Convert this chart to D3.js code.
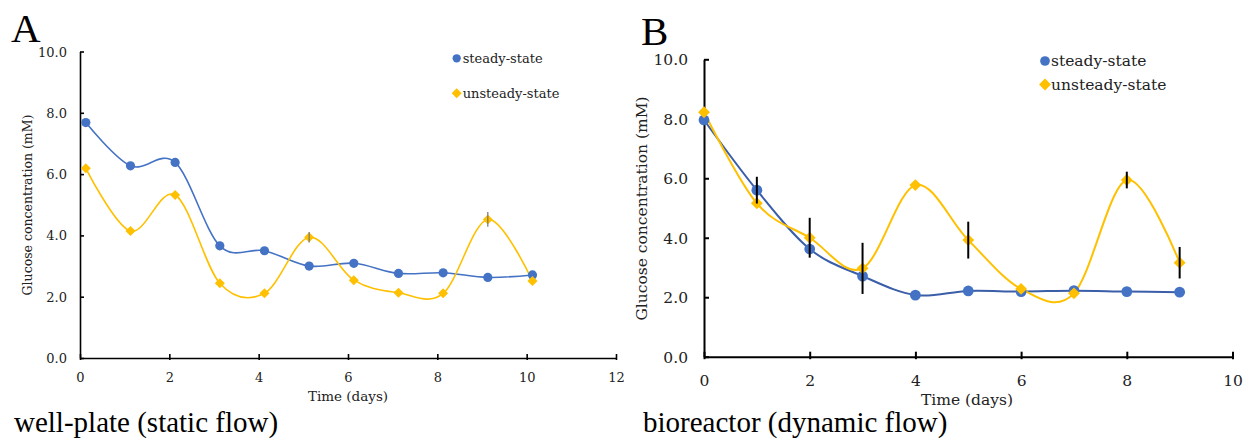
<!DOCTYPE html>
<html><head><meta charset="utf-8">
<script src="https://cdn.jsdelivr.net/npm/d3@7"></script>
<style>body{margin:0;background:#fff}svg{display:block}</style>
</head><body>
<svg id="c" width="1244" height="442"></svg>
<script>
// ---- Data ----
const daysA = [0.13,1.13,2.13,3.13,4.13,5.13,6.13,7.13,8.13,9.13,10.13];
const steadyA = [7.68,6.27,6.38,3.66,3.50,3.00,3.09,2.76,2.78,2.63,2.71];
const unsteadyA = [6.19,4.14,5.32,2.44,2.11,3.94,2.54,2.13,2.11,4.52,2.51];
const unsteadyErrA = [0,0,0,0,0,0.17,0,0,0,0.24,0];
const daysB = [0,1,2,3,4,5,6,7,8,9];
const steadyB = [7.96,5.60,3.62,2.71,2.07,2.21,2.19,2.22,2.19,2.17];
const steadyErrB = [0,0.45,0,0,0,0,0,0,0,0];
const unsteadyB = [8.22,5.16,4.00,2.97,5.77,3.92,2.28,2.13,5.94,3.16];
const unsteadyErrB = [0,0,0.67,0.86,0,0.62,0,0,0.28,0.53];
const yTicks = [0,2,4,6,8,10];
const xTicksA = [0,2,4,6,8,10,12];
const xTicksB = [0,2,4,6,8,10];
const seriesNames = ["steady-state","unsteady-state"];
const colors = {steady:"#4472C4", unsteady:"#FFC000"};

const svg = d3.select("#c");
const serif = "'Liberation Serif','Times New Roman',serif";
const numFont = "'DejaVu Serif',Georgia,serif";

function panel(cfg){
  const g = svg.append("g");
  const x = d3.scaleLinear().domain(cfg.xDomain).range(cfg.xRange);
  const y = d3.scaleLinear().domain([0,10]).range(cfg.yRange);
  // axes
  const ax = d3.axisBottom(x).tickValues(cfg.xTicks).tickSize(0).tickFormat(d3.format("d"));
  const gx = g.append("g").attr("transform",`translate(0,${cfg.yRange[0]})`).call(ax);
  gx.select(".domain").attr("stroke","#000").attr("stroke-width",cfg.axisW);
  gx.selectAll(".tick line").remove();
  gx.selectAll(".tick").append("line").attr("y1",-cfg.tick).attr("y2",cfg.tick*0.5).attr("stroke","#000").attr("stroke-width",cfg.axisW);
  gx.selectAll(".tick text").attr("dy",null).attr("y",cfg.xLabOff).attr("font-family",numFont).attr("font-size",cfg.tickFs).attr("fill","#222");
  const ay = d3.axisLeft(y).tickValues(yTicks).tickSize(0).tickFormat(d3.format(".1f"));
  const gy = g.append("g").attr("transform",`translate(${cfg.xRange[0]},0)`).call(ay);
  gy.select(".domain").attr("stroke","#000").attr("stroke-width",cfg.axisW);
  gy.selectAll(".tick line").remove();
  gy.selectAll(".tick").append("line").attr("x1",0).attr("x2",cfg.tick).attr("stroke","#000").attr("stroke-width",cfg.axisW);
  gy.selectAll(".tick text").attr("x",-cfg.yLabOff).attr("dy","0.35em").attr("font-family",numFont).attr("font-size",cfg.tickFs).attr("fill","#222");
  // axis titles
  g.append("text").attr("x",cfg.xTitle[0]).attr("y",cfg.xTitle[1]).attr("text-anchor","middle")
    .attr("font-family",numFont).attr("font-size",cfg.titleFs).attr("fill","#222").text("Time (days)");
  g.append("text").attr("transform",`translate(${cfg.yTitle[0]},${cfg.yTitle[1]}) rotate(-90)`).attr("text-anchor","middle")
    .attr("font-family",numFont).attr("font-size",cfg.yTitleFs).attr("fill","#222").text("Glucose concentration (mM)");
  // panel letter & caption
  g.append("text").attr("x",cfg.letter[0]).attr("y",cfg.letter[1]).attr("font-family",serif).attr("font-size",cfg.letterFs).attr("fill","#000").text(cfg.letterText);
  g.append("text").attr("x",cfg.caption[0]).attr("y",cfg.caption[1]).attr("font-family",serif).attr("font-size",29).attr("fill","#000").text(cfg.captionText);

  const line = d3.line().x(d=>x(d[0])).y(d=>y(d[1])).curve(d3.curveCardinal.tension(0));
  const sets = [
    {vals:cfg.steady, err:cfg.steadyErr, color:colors.steady, lc:cfg.steadyLine, shape:"circle"},
    {vals:cfg.unsteady, err:cfg.unsteadyErr, color:colors.unsteady, lc:colors.unsteady, shape:"diamond"}
  ];
  sets.forEach(s=>{
    const pts = cfg.days.map((d,i)=>[d,s.vals[i]]);
    g.append("path").attr("d",line(pts)).attr("fill","none").attr("stroke",s.lc).attr("stroke-width",cfg.lineW);
  });
  sets.forEach(s=>{
    cfg.days.forEach((d,i)=>{
      const v = s.vals[i];
      if(s.shape==="circle") g.append("circle").attr("cx",x(d)).attr("cy",y(v)).attr("r",cfg.r).attr("fill",s.color);
      else g.append("path").attr("d",d3.symbol(d3.symbolDiamond2,cfg.dia)()).attr("transform",`translate(${x(d)},${y(v)})`).attr("fill",s.color);
    });
  });
  // error bars on top
  sets.forEach(s=>{
    if(!s.err) return;
    cfg.days.forEach((d,i)=>{
      const e = s.err[i]; if(!e) return;
      g.append("line").attr("x1",x(d)).attr("x2",x(d)).attr("y1",y(s.vals[i]-e)).attr("y2",y(s.vals[i]+e))
        .attr("stroke",cfg.errColor).attr("stroke-width",cfg.errW);
    });
  });
  // legend
  seriesNames.forEach((n,i)=>{
    const lx = cfg.legend[0], ly = cfg.legend[1] + i*cfg.legendGap;
    if(i===0) g.append("circle").attr("cx",lx).attr("cy",ly).attr("r",cfg.r*0.9).attr("fill",colors.steady);
    else g.append("path").attr("d",d3.symbol(d3.symbolDiamond2,cfg.dia)()).attr("transform",`translate(${lx},${ly})`).attr("fill",colors.unsteady);
    g.append("text").attr("x",lx+6).attr("y",ly).attr("dy","0.35em").attr("font-family",numFont).attr("font-size",cfg.legendFs).attr("fill","#222").text(n);
  });
}

panel({
  xDomain:[0,12], xRange:[80,616], yRange:[358,51.5], xTicks:xTicksA,
  days:daysA, steady:steadyA, steadyErr:null, unsteady:unsteadyA, unsteadyErr:unsteadyErrA,
  steadyLine:"#4472C4", lineW:1.6, r:4.6, dia:64, errColor:"#777", errW:1.2,
  axisW:1.6, tick:4, tickFs:13, xLabOff:24, yLabOff:13, titleFs:13.5, yTitleFs:12.5,
  xTitle:[348,400.5], yTitle:[32,205],
  letter:[11,42], letterFs:41, letterText:"A", caption:[14,432], captionText:"well-plate (static flow)",
  legend:[456.7,58.3], legendGap:35, legendFs:13
});
panel({
  xDomain:[0,10], xRange:[704,1232.5], yRange:[356.7,59.3], xTicks:xTicksB,
  days:daysB, steady:steadyB, steadyErr:steadyErrB, unsteady:unsteadyB, unsteadyErr:unsteadyErrB,
  steadyLine:"#3A5EA8", lineW:2, r:5.4, dia:90, errColor:"#000", errW:2,
  axisW:2, tick:5, tickFs:15.5, xLabOff:29, yLabOff:16, titleFs:15.5, yTitleFs:15.5,
  xTitle:[967,405], yTitle:[647,208.5],
  letter:[641,45], letterFs:41, letterText:"B", caption:[643,432], captionText:"bioreactor (dynamic flow)",
  legend:[1045,61], legendGap:23.5, legendFs:15.5
});
</script>
</body></html>
